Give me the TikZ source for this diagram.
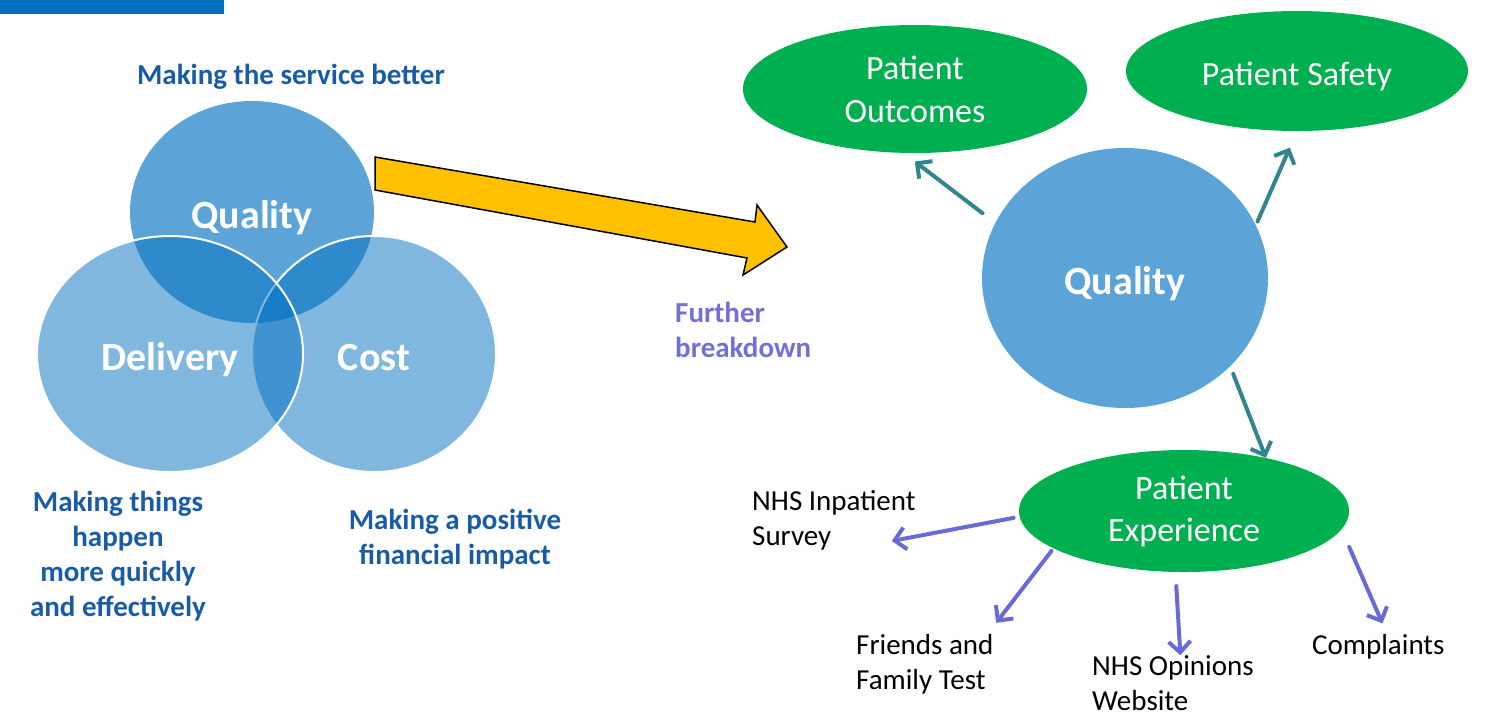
\documentclass[tikz,border=0pt]{standalone}
\usepackage{fontspec}
\setmainfont{Carlito}
\usetikzlibrary{shapes.geometric,arrows.meta,calc,positioning}
\definecolor{nhsblue}{RGB}{0,112,192}
\definecolor{capblue}{RGB}{24,92,168}
\definecolor{aimgreen}{RGB}{0,176,80}
\definecolor{linkteal}{RGB}{49,133,140}
\definecolor{linkpurple}{RGB}{106,106,214}
\definecolor{breakpurple}{RGB}{112,112,216}
\definecolor{arrowgold}{RGB}{255,192,0}
\tikzset{
    venn/.style={ellipse, inner sep=0pt, fill=nhsblue, text=white, text opacity=1,
        text height=33pt, text depth=0pt,
        font=\fontsize{40}{48}\selectfont\bfseries},
    caption/.style={text=capblue, align=center, inner sep=0pt,
        font=\fontsize{29}{35}\selectfont\bfseries},
    aim/.style={ellipse, inner sep=0pt, fill=aimgreen, text=white, align=center,
        font=\fontsize{34}{43}\selectfont},
    source/.style={anchor=west, align=left, inner sep=0pt,
        font=\fontsize{29}{35}\selectfont},
    tealarrow/.style={-{Straight Barb[length=11pt,width=22pt]}, line width=4pt,
        draw=linkteal, line cap=round},
    purplearrow/.style={-{Straight Barb[length=11pt,width=22pt]}, line width=4pt,
        draw=linkpurple, line cap=round}
}

\begin{document}
\begin{tikzpicture}[x=1pt,y=-1pt]

    \useasboundingbox (0,0) rectangle (1490,713);

    % Top bar.
    \fill[nhsblue] (0,0) rectangle (224,14);

    % Venn circles.
    \node[venn, fill opacity=.64, minimum width=244, minimum height=222] (qual) at (252,212) {Quality};
    \node[venn, fill opacity=.5, draw=white, line width=2pt, minimum width=244, minimum height=236] (cost) at (374,354) {Cost};
    \node[venn, fill opacity=.5, draw=white, line width=2pt, minimum width=266, minimum height=236] (deliv) at (170,354) {Delivery};

    % Venn captions.
    \node[caption] (qualcap) at (291,77) {Making the service better};
    \node[caption] (delivcap) at (118,556) {Making things\\happen\\more quickly\\and effectively};
    \node[caption] (costcap) at (455,539) {Making a positive\\financial impact};

    % Breakdown arrow.
    \draw[fill=arrowgold, line width=1.5pt, line join=miter]
        (375,157) -- (755,222) -- (757,205) -- (787,247) -- (743,275) -- (747,258) -- (375,190) -- cycle;
    \node[anchor=west, align=left, inner sep=0pt, text=breakpurple,
        font=\fontsize{29}{35}\selectfont\bfseries] (brk) at (675,330) {Further\\breakdown};

    % Quality and its aims.
    \node[venn, fill=nhsblue!64, minimum width=286, minimum height=260] (qbig) at (1125,278) {Quality};
    \node[aim, minimum width=344, minimum height=128] (outc) at (915,89) {Patient\\Outcomes};
    \node[aim, minimum width=342, minimum height=120, text height=30pt, text depth=2pt] (safe) at (1297,71) {Patient Safety};
    \node[aim, font=\fontsize{34}{42}\selectfont, minimum width=330, minimum height=122] (exp) at (1184,511) {Patient\\Experience};

    \draw[tealarrow, shorten <=16pt, shorten >=14pt] (qbig.157) -- (outc.-100);
    \draw[tealarrow, shorten <=4pt, shorten >=18pt] (qbig.22) -- (safe.south);
    \draw[tealarrow, shorten <=8pt] (qbig.-40) -- (exp.33);

    % Sources of patient experience.
    \node[source] (survey) at (752,520) {NHS Inpatient\\Survey};
    \node[source] (friends) at (856,664) {Friends and\\Family Test};
    \node[source] (opin) at (1092,683) {NHS Opinions\\Website};
    \node[source] (compl) at (1312,647) {Complaints};

    \draw[purplearrow, shorten <=6pt] (exp.182) -- ($(survey.east)+(-24,21)$);
    \draw[purplearrow, shorten <=3pt, shorten >=14pt] (exp.-164) -- ($(friends.north east)+(-6,0)$);
    \draw[purplearrow, shorten <=14pt] (exp.-98) -- (opin.75);
    \draw[purplearrow, shorten >=12pt] ($(exp.east)+(0,36)$) -- (compl.55);

\end{tikzpicture}
\end{document}
